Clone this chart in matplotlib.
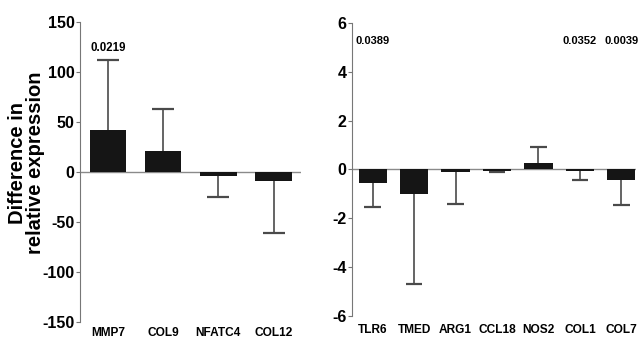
import numpy as np
import matplotlib.pyplot as plt

# left panel data
genes_a = ['MMP7', 'COL9', 'NFATC4', 'COL12']
vals_a = [42, 21, -4, -9]
errs_a = [112, 63, -25, -61]
pvals_a = ['0.0219', '', '', '']

# right panel data
genes_b = ['TLR6', 'TMED', 'ARG1', 'CCL18', 'NOS2', 'COL1', 'COL7']
vals_b = [-0.55, -1.0, -0.1, -0.05, 0.28, -0.05, -0.45]
errs_b = [-1.55, -4.7, -1.4, -0.12, 0.92, -0.45, -1.45]
pvals_b = ['0.0389', '', '', '', '', '0.0352', '0.0039']

plt.rcParams['font.family'] = ['Liberation Sans', 'DejaVu Sans']
plt.rcParams['axes.unicode_minus'] = False

fig = plt.figure(figsize=(6.41, 3.41), dpi=100)
ax1 = fig.add_axes([0.125, 0.056, 0.345, 0.879])
ax2 = fig.add_axes([0.549, 0.073, 0.443, 0.860])


def panel(ax, genes, vals, errs, width, cap, pad):
    x = np.arange(len(genes))
    ax.bar(x, vals, width=width, color='#151515', zorder=3)
    ax.vlines(x, vals, errs, color='#4a4a4a', lw=1.2, zorder=2)
    ax.hlines(errs, x - cap, x + cap, color='#4a4a4a', lw=1.6, zorder=2)
    ax.axhline(0, color='#8a8a8a', lw=1, zorder=1)
    ax.set_xticks(x)
    ax.set_xticklabels(genes, fontsize=8.6, fontweight='bold')
    ax.tick_params(axis='x', length=0, pad=pad)
    ax.tick_params(axis='y', length=3, width=0.8, color='#777777',
                   labelsize=11.5, pad=1)
    for s in ['top', 'right', 'bottom']:
        ax.spines[s].set_visible(False)
    ax.spines['left'].set_color('#777777')
    ax.spines['left'].set_linewidth(0.8)
    return x


x1 = panel(ax1, genes_a, vals_a, errs_a, 0.66, 0.2, 3.5)
ax1.set_ylim(-150, 150)
ax1.set_yticks([-150, -100, -50, 0, 50, 100, 150])
for lab in ax1.get_yticklabels():
    lab.set_fontweight('bold')
ax1.set_xlim(-0.5, 3.5)
for xi, e, p in zip(x1, errs_a, pvals_a):
    if p:
        ax1.text(xi, e + 6, p, ha='center', va='bottom', fontsize=8.3,
                 fontweight='bold')

x2 = panel(ax2, genes_b, vals_b, errs_b, 0.68, 0.2, 6)
ax2.set_ylim(-6, 6)
ax2.set_yticks([-6, -4, -2, 0, 2, 4, 6])
for lab in ax2.get_yticklabels():
    lab.set_fontweight('bold')
ax2.set_xlim(-0.5, 6.35)
for xi, p in zip(x2, pvals_b):
    if p:
        ax2.text(xi, 5.25, p, ha='center', va='center', fontsize=8,
                 fontweight='bold')

fig.text(0.041, 0.522, 'Difference in\nrelative expression', rotation=90,
         ha='center', va='center', fontsize=14.5, fontweight='bold',
         linespacing=0.95)

fig.savefig('out.png', dpi=100, facecolor='white')
